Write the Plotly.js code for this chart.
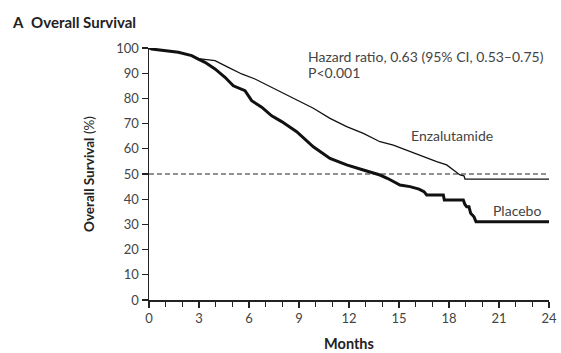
<!DOCTYPE html>
<html>
<head>
<meta charset="utf-8">
<script src="https://cdn.plot.ly/plotly-3.0.1.min.js"></script>
<style>html,body{margin:0;padding:0;background:#fff;} #chart{width:561px;height:353px;}</style>
</head>
<body>
<div id="chart"></div>
<script>
// Enzalutamide curve: months and survival %
const enzaMonths = [0, 0.16, 1.76, 2.56, 2.96, 3.36, 3.96, 4.76, 5.56, 6.36, 7.16, 7.96, 8.86, 9.86, 10.86, 11.86, 12.86, 13.86, 14.66, 15.66, 16.46, 17.26, 17.86, 18.26, 18.66, 18.9, 18.96, 24.0];
const enzaSurv   = [100, 99.6, 98.3, 97.0, 95.8, 95.6, 95.0, 92.3, 89.7, 87.7, 85.0, 82.4, 79.4, 76.1, 72.1, 68.8, 66.1, 62.8, 61.5, 58.9, 56.9, 54.9, 53.6, 51.6, 49.6, 49.3, 48.0, 48.0];
// Placebo curve
const placMonths = [0, 0.16, 1.76, 2.56, 2.96, 3.36, 3.96, 4.56, 5.06, 5.76, 6.16, 6.76, 7.36, 7.96, 8.86, 9.86, 10.86, 11.86, 12.86, 13.86, 14.3, 15.06, 15.66, 16.2, 16.5, 16.66, 17.66, 17.72, 18.86, 18.95, 19.06, 19.2, 19.3, 19.5, 19.62, 24.0];
const placSurv   = [100, 99.6, 98.3, 97.0, 95.6, 94.3, 91.7, 88.4, 85.0, 83.1, 79.1, 76.5, 73.1, 70.8, 66.8, 60.8, 56.2, 53.6, 51.6, 49.6, 48.3, 45.6, 45.0, 44.0, 43.0, 41.7, 41.7, 39.7, 39.7, 38.0, 37.0, 37.0, 34.4, 33.0, 31.1, 31.1];
// Median reference line
const medianX = [0, 24];
const medianY = [50, 50];
const xTicks = [0, 3, 6, 9, 12, 15, 18, 21, 24];
const yTicks = [0, 10, 20, 30, 40, 50, 60, 70, 80, 90, 100];

const fontFam = 'Lato, "Open Sans", sans-serif';
const traces = [
  {x: medianX, y: medianY, mode: 'lines', line: {color: '#222', width: 1.2, dash: '5px,3px'}, hoverinfo: 'skip'},
  {x: enzaMonths, y: enzaSurv, mode: 'lines', line: {color: '#111', width: 1.3}, name: 'Enzalutamide'},
  {x: placMonths, y: placSurv, mode: 'lines', line: {color: '#111', width: 3}, name: 'Placebo'}
];
const layout = {
  width: 561, height: 353,
  margin: {l: 149, r: 12, t: 48, b: 53},
  showlegend: false,
  paper_bgcolor: '#fff', plot_bgcolor: '#fff',
  font: {family: fontFam, color: '#444', size: 12},
  xaxis: {
    range: [0, 24], tickvals: xTicks, ticktext: xTicks.map(String),
    showgrid: false, zeroline: false, showline: true, linecolor: '#222', linewidth: 1.5,
    ticks: 'outside', ticklen: 6, tickwidth: 1.2, tickcolor: '#222',
    minor: {dtick: 1, ticks: 'outside', ticklen: 5, tickwidth: 1.2, tickcolor: '#222'},
    tickfont: {size: 13, color: '#444', family: fontFam},
    title: {text: '<b>Months</b>', font: {size: 14.5, color: '#222', family: fontFam}, standoff: 14}
  },
  yaxis: {
    range: [0, 100], tickvals: yTicks, ticktext: yTicks.map(String),
    showgrid: false, zeroline: false, showline: true, linecolor: '#222', linewidth: 1.5,
    ticks: 'outside', ticklen: 6, tickwidth: 1.2, tickcolor: '#222',
    tickfont: {size: 13, color: '#444', family: fontFam},
    title: {text: '<b>Overall Survival</b> (%)', font: {size: 13.5, color: '#222', family: fontFam}, standoff: 18}
  },
  annotations: [
    {xref: 'paper', yref: 'paper', x: -139/400, y: 1 + 26/252, xanchor: 'left', yanchor: 'middle', showarrow: false,
     text: '<b>A</b>  <b>Overall Survival</b>', font: {size: 15, color: '#222', family: fontFam}},
    {xref: 'x', yref: 'y', x: 9.4, y: 96.8, xanchor: 'left', yanchor: 'middle', showarrow: false,
     text: 'Hazard ratio, 0.63 (95% CI, 0.53–0.75)', font: {size: 14, color: '#444', family: fontFam}},
    {xref: 'x', yref: 'y', x: 9.4, y: 90.2, xanchor: 'left', yanchor: 'middle', showarrow: false,
     text: 'P&lt;0.001', font: {size: 14, color: '#444', family: fontFam}},
    {xref: 'x', yref: 'y', x: 15.6, y: 65.2, xanchor: 'left', yanchor: 'middle', showarrow: false,
     text: 'Enzalutamide', font: {size: 14, color: '#444', family: fontFam}},
    {xref: 'x', yref: 'y', x: 20.5, y: 35.5, xanchor: 'left', yanchor: 'middle', showarrow: false,
     text: 'Placebo', font: {size: 14, color: '#444', family: fontFam}}
  ]
};
Plotly.newPlot('chart', traces, layout, {displayModeBar: false, staticPlot: true});
</script>
</body>
</html>
